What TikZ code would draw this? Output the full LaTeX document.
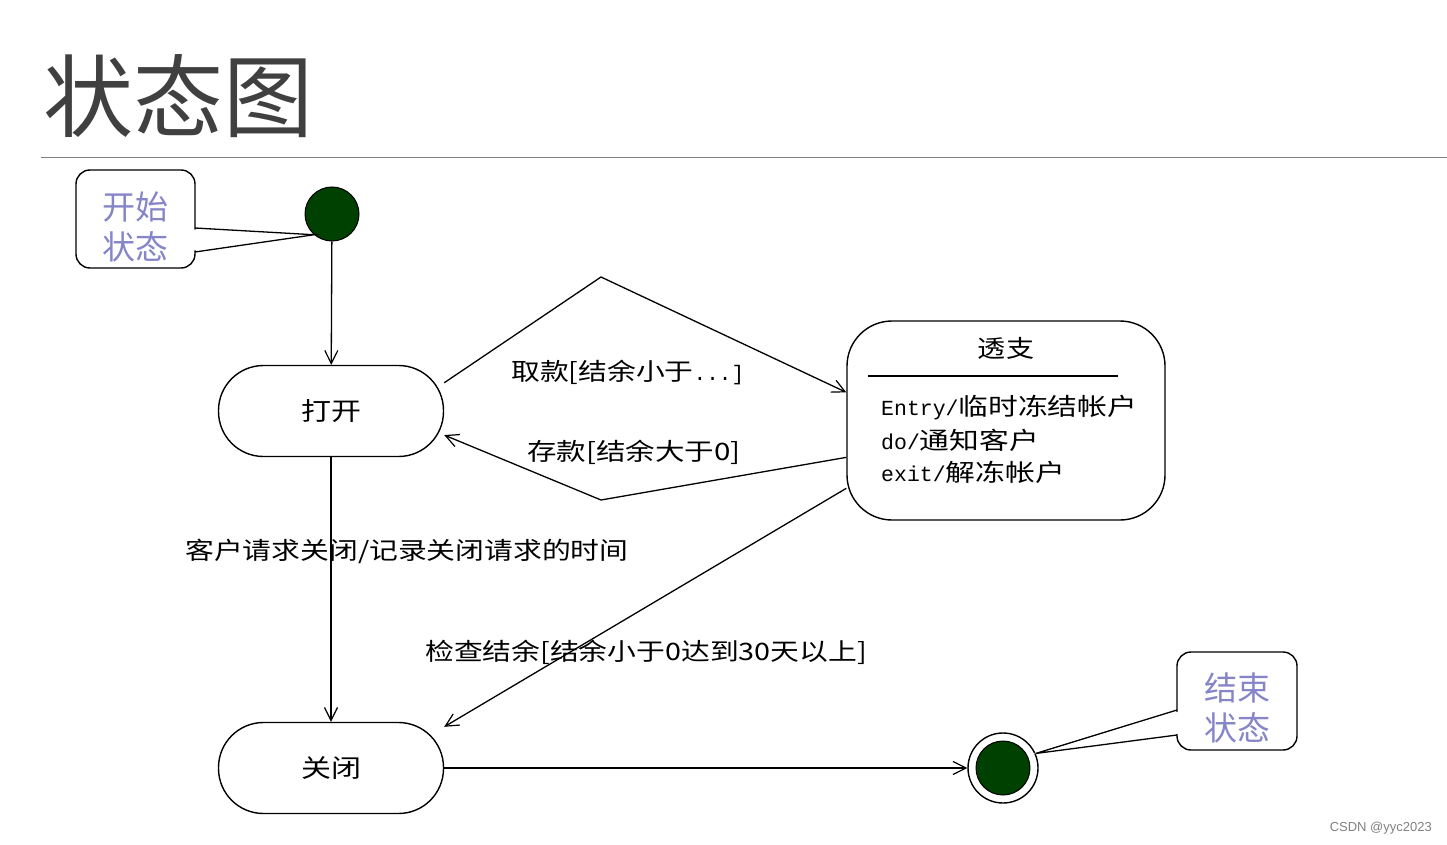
\documentclass[tikz,border=0pt]{standalone}
\usepackage{fontspec}
\newfontfamily\cjk{Noto Sans CJK SC}
\newfontfamily\mono{Liberation Mono}
\newfontfamily\arial{Liberation Sans}
\usetikzlibrary{arrows.meta}
\definecolor{dkgreen}{RGB}{0,64,0}
\definecolor{lav}{RGB}{133,133,200}
\definecolor{titlegray}{RGB}{64,64,64}
\newcommand{\wide}[2]{\scalebox{#1}[1]{#2}}
\tikzset{
  stadium/.style={draw,line width=1.4pt,rounded corners=45pt,minimum width=225pt,minimum height=91pt,inner sep=0pt,font=\cjk\fontsize{25}{28}\selectfont},
  trans/.style={draw,line width=1.3pt,-{Straight Barb[length=13pt,width=13pt,line width=1.2pt]}},
  lbl/.style={font=\cjk\fontsize{24}{27}\selectfont,inner sep=0pt},
  callout/.style={draw,line width=1.4pt,rounded corners=14pt,fill=white,inner sep=0pt},
  callouttext/.style={text=lav,font=\cjk\fontsize{33}{40}\selectfont,align=center,inner sep=0pt},
  dot/.style={circle,fill=dkgreen,draw=black,line width=1pt,inner sep=0pt}
}
\begin{document}
\begin{tikzpicture}[x=1pt,y=-1pt]
\useasboundingbox (0,0) rectangle (1447,845);
% title
\node[anchor=west,text=titlegray,font=\cjk\fontsize{90}{92}\selectfont,inner sep=0pt] (title) at (43,96) {状态图};
\draw[line width=1pt,gray] (41,158) -- (1447,158);
% start
\node[dot,minimum size=54pt] (start) at (332,214) {};
% states
\node[stadium] (open) at (331,411) {\wide{1.2}{打开}};
\node[stadium] (closed) at (331,768) {\wide{1.2}{关闭}};
\node[draw,line width=1.4pt,rounded corners=45pt,minimum width=318pt,minimum height=199pt,inner sep=0pt] (over) at (1006,420.5) {};
\node[lbl] (overtitle) at (1006,348) {\wide{1.17}{透支}};
\draw[line width=1.3pt] (868,376) -- (1118,376);
\node[anchor=west,inner sep=0pt] (act1) at (881,408) {{\mono\fontsize{21.5}{24}\selectfont Entry/}{\cjk\fontsize{24}{27}\selectfont\wide{1.24}{临时冻结帐户}}};
\node[anchor=west,inner sep=0pt] (act2) at (881,440) {{\mono\fontsize{21.5}{24}\selectfont do/}{\cjk\fontsize{24}{27}\selectfont\wide{1.24}{通知客户}}};
\node[anchor=west,inner sep=0pt] (act3) at (881,472) {{\mono\fontsize{21.5}{24}\selectfont exit/}{\cjk\fontsize{24}{27}\selectfont\wide{1.24}{解冻帐户}}};
% end
\node[circle,draw,line width=1.4pt,fill=white,minimum size=70pt,inner sep=0pt] (endo) at (1003,768) {};
\node[dot,minimum size=54pt] (end) at (1003,768) {};
% transitions
\coordinate (topb) at (601,277);
\coordinate (botb) at (601,500);
\draw[trans] (start) -- (open);
\draw[trans] (open.14) -- (topb) -- (over.170);
\draw[trans] (over.193) -- (botb) -- (open.-12);
\draw[trans] (open) -- (closed);
\draw[trans] (over.203.6) -- (closed.20);
\draw[trans] (closed) -- (endo);
% labels
\node[lbl,anchor=west] (l1) at (511,372) {\wide{1.2}{取款[结余小于}{\mono\fontsize{21}{24}\selectfont ...]}};
\node[lbl,anchor=west] (l2) at (527,452) {\wide{1.23}{存款[结余大于0]}};
\node[lbl,anchor=west] (l3) at (185,551) {\wide{1.2}{客户请求关闭/记录关闭请求的时间}};
\node[lbl,anchor=west] (l4) at (425,652) {\wide{1.2}{检查结余[结余小于0达到30天以上]}};
% callouts
\node[callout,minimum width=119pt,minimum height=98pt] (c1) at (135.5,219) {};
\node[callouttext] (c1t) at (135,227) {开始\\状态};
\fill[white] (193,229.5) -- (312,237) -- (193,250.5) -- cycle;
\draw[line width=1.3pt] (195,228) -- (start.229) -- (195,252);
\node[callout,minimum width=120pt,minimum height=98pt] (c2) at (1237,701) {};
\node[callouttext] (c2t) at (1237,708) {结束\\状态};
\fill[white] (1179,711.5) -- (1031,754) -- (1179,733.5) -- cycle;
\draw[line width=1.3pt] (1177,710) -- (endo.24) -- (1177,735);
% watermark
\node[anchor=east,text=gray,font=\arial\fontsize{13}{15}\selectfont,inner sep=0pt] (wm) at (1432,828) {CSDN @yyc2023};
\end{tikzpicture}
\end{document}
